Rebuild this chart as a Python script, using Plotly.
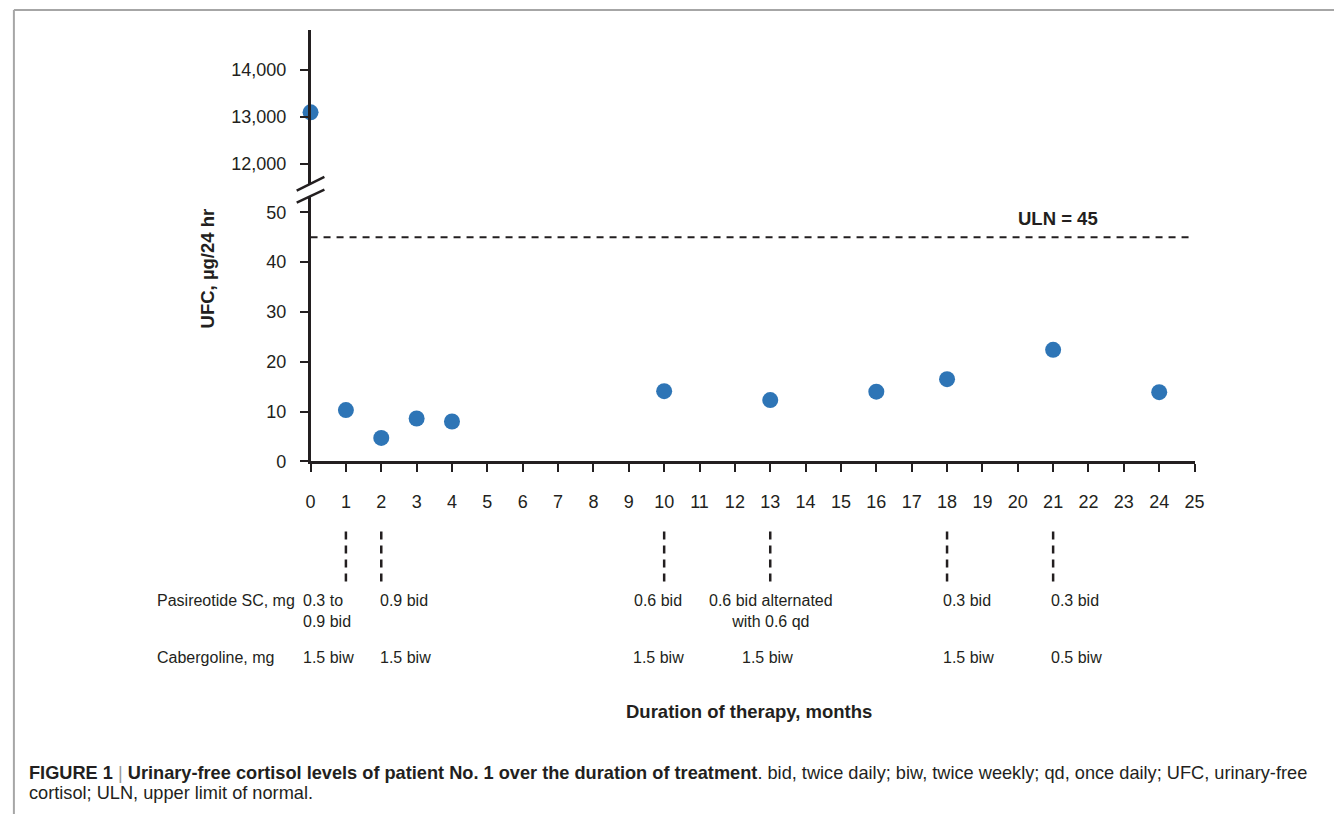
import plotly.graph_objects as go

# ---------------- data ----------------
baseline_month = [0]
baseline_ufc = [13100]
months = [1, 2, 3, 4, 10, 13, 16, 18, 21, 24]
ufc = [10.3, 4.7, 8.6, 8.0, 14.1, 12.3, 14.0, 16.5, 22.4, 13.9]
uln_value = 45
x_ticks = list(range(0, 26))
lower_ticks = [0, 10, 20, 30, 40, 50]
upper_ticks = [12000, 13000, 14000]
dose_months = [1, 2, 10, 13, 18, 21]
pasireotide = ["0.3 to<br>0.9 bid", "0.9 bid", "0.6 bid",
               "0.6 bid alternated<br>with 0.6 qd", "0.3 bid", "0.3 bid"]
cabergoline = ["1.5 biw", "1.5 biw", "1.5 biw", "1.5 biw", "1.5 biw", "0.5 biw"]

# ---------------- styling ----------------
W, H = 1344, 824
FONT = "Liberation Sans, Arial, Helvetica, sans-serif"
INK = "#231f20"
BLUE = "#2e75b6"


def px(x):
    return x / W


def py(y):
    return 1 - y / H


fig = go.Figure()
fig.add_trace(go.Scatter(x=months, y=ufc, mode="markers", xaxis="x", yaxis="y",
                         marker=dict(size=16, color=BLUE), cliponaxis=False,
                         showlegend=False))
fig.add_trace(go.Scatter(x=baseline_month, y=baseline_ufc, mode="markers",
                         xaxis="x", yaxis="y2",
                         marker=dict(size=16, color=BLUE), cliponaxis=False,
                         showlegend=False))

axis_common = dict(showline=True, linecolor=INK, linewidth=2.5, ticks="outside",
                   ticklen=8, tickwidth=2, tickcolor=INK, showgrid=False,
                   zeroline=False, tickfont=dict(family=FONT, size=18, color=INK))

fig.update_layout(
    width=W, height=H, autosize=False,
    margin=dict(l=0, r=0, t=0, b=0),
    paper_bgcolor="white", plot_bgcolor="white",
    xaxis=dict(domain=[px(309), px(1203)], range=[0, 25], tickvals=x_ticks,
               anchor="y", ticklabelstandoff=14, **axis_common),
    yaxis=dict(domain=[py(467), py(198)], range=[0, (467 - 198) / 5.04],
               tickvals=lower_ticks, anchor="x", ticklabelstandoff=10, **axis_common),
    yaxis2=dict(domain=[py(186), py(30)],
                range=[12000 - 20 / 47.5 * 1000, 14000 + 41 / 47.5 * 1000],
                tickvals=upper_ticks, tickformat=",", anchor="x",
                ticklabelstandoff=10, **axis_common),
)

shapes = []
# ULN dashed line
shapes.append(dict(type="line", xref="x", yref="y", x0=0, x1=25,
                   y0=uln_value, y1=uln_value,
                   line=dict(color=INK, width=2, dash="7px,6px")))
# vertical dashed connectors below axis
for m in dose_months:
    shapes.append(dict(type="line", xref="x", yref="paper", x0=m, x1=m,
                       y0=py(538), y1=py(590),
                       line=dict(color=INK, width=2.5, dash="8px,6px")))
# axis break marks
shapes.append(dict(type="line", xref="paper", yref="paper",
                   x0=px(295), y0=py(193), x1=px(323), y1=py(179),
                   line=dict(color=INK, width=2.5)))
shapes.append(dict(type="line", xref="paper", yref="paper",
                   x0=px(295), y0=py(205), x1=px(323), y1=py(192),
                   line=dict(color=INK, width=2.5)))
# frame lines
shapes.append(dict(type="line", xref="paper", yref="paper",
                   x0=px(9), y0=py(10), x1=1, y1=py(10),
                   line=dict(color="#a6a6a6", width=2)))
shapes.append(dict(type="line", xref="paper", yref="paper",
                   x0=px(9), y0=py(10), x1=px(9), y1=0,
                   line=dict(color="#a6a6a6", width=2)))
fig.update_layout(shapes=shapes)

ann = []
txt = dict(family=FONT, size=16, color=INK)
bold = dict(family=FONT, size=18.5, color=INK)

ann.append(dict(text="<b>UFC, µg/24 hr</b>", x=px(205), y=py(272), xref="paper",
                yref="paper", textangle=-90, showarrow=False, font=bold,
                xanchor="center", yanchor="middle"))
ann.append(dict(text="<b>ULN = 45</b>", x=px(1065), y=py(221), xref="paper",
                yref="paper", showarrow=False, font=bold,
                xanchor="center", yanchor="middle"))
ann.append(dict(text="<b>Duration of therapy, months</b>", x=px(752), y=py(720),
                xref="paper", yref="paper", showarrow=False, font=bold,
                xanchor="center", yanchor="middle"))

ann.append(dict(text="Pasireotide SC, mg", x=px(152), y=py(597), xref="paper",
                yref="paper", showarrow=False, font=txt, xanchor="left",
                yanchor="top"))
ann.append(dict(text="Cabergoline, mg", x=px(152), y=py(655), xref="paper",
                yref="paper", showarrow=False, font=txt, xanchor="left",
                yanchor="top"))

pas_shift = [-45, -3.5, -32, 1, -6, -4]
pas_anchor = ["left", "left", "left", "center", "left", "left"]
cab_shift = [-45, -3.5, -33, -30, -6, -4]
for m, t, s, a in zip(dose_months, pasireotide, pas_shift, pas_anchor):
    ann.append(dict(text=t, x=m, y=py(597), xref="x", yref="paper",
                    showarrow=False, font=txt, xanchor=a, align=a,
                    yanchor="top", xshift=s))
for m, t, s in zip(dose_months, cabergoline, cab_shift):
    ann.append(dict(text=t, x=m, y=py(655), xref="x", yref="paper",
                    showarrow=False, font=txt, xanchor="left", align="left",
                    yanchor="top", xshift=s))

cap = dict(family=FONT, size=18.2, color=INK)
ann.append(dict(text="<b>FIGURE 1</b> <span style='color:#999'>|</span> "
                     "<b>Urinary-free cortisol levels of patient No. 1 over the duration of treatment</b>. "
                     "bid, twice daily; biw, twice weekly; qd, once daily; UFC, urinary-free",
                x=px(22), y=py(782), xref="paper", yref="paper", showarrow=False,
                font=cap, xanchor="left", yanchor="middle"))
ann.append(dict(text="cortisol; ULN, upper limit of normal.",
                x=px(22), y=py(803), xref="paper", yref="paper", showarrow=False,
                font=cap, xanchor="left", yanchor="middle"))

fig.update_layout(annotations=ann)
fig.write_html("out.html", config={"displayModeBar": False},
               post_script="document.body.style.margin='0';"
                           "document.body.style.overflow='hidden';")
